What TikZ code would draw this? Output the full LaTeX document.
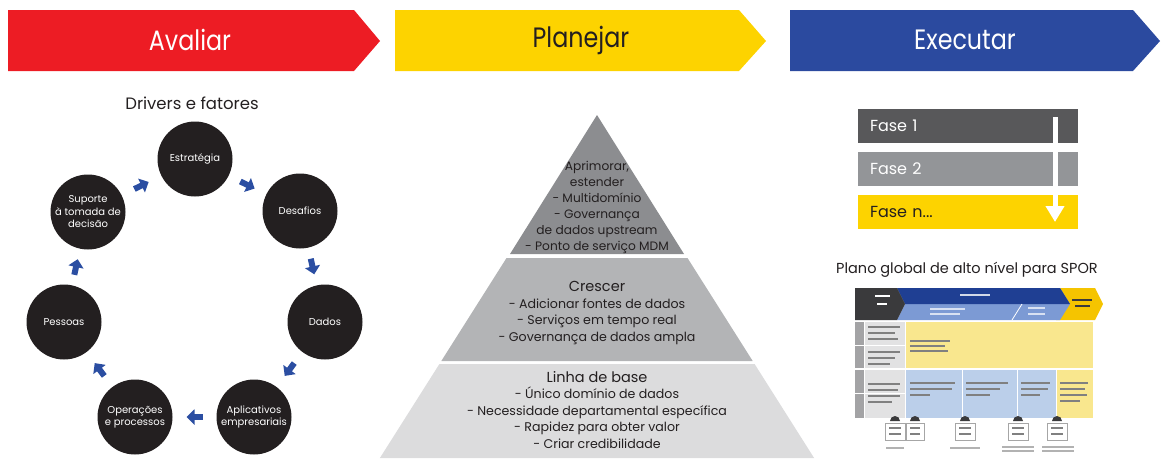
\documentclass[tikz,border=0pt]{standalone}
\usepackage{fontspec}
\setmainfont{Poppins}
\usetikzlibrary{arrows.meta,shapes.geometric,calc}
\definecolor{cred}{HTML}{ED1C24}
\definecolor{cyel}{HTML}{FDD300}
\definecolor{cblue}{HTML}{2B4A9F}
\definecolor{cdark}{HTML}{231F20}
\definecolor{arrblue}{HTML}{2B4EA2}
\definecolor{ptop}{HTML}{8C8D90}
\definecolor{pmid}{HTML}{B3B4B6}
\definecolor{pbot}{HTML}{DCDCDD}
\definecolor{faseA}{HTML}{58585A}
\definecolor{faseB}{HTML}{939598}
\definecolor{thdark}{HTML}{3A3A3C}
\definecolor{thblue}{HTML}{1F3F93}
\definecolor{thlblue}{HTML}{7C9AD4}
\definecolor{thyel}{HTML}{F5C400}
\definecolor{thpyel}{HTML}{F9E78E}
\definecolor{thpblue}{HTML}{BBCFEA}
\definecolor{thgray}{HTML}{A3A3A5}
\definecolor{thlgray}{HTML}{E2E2E3}
\tikzset{
  bannertext/.style={font=\fontsize{28}{32}\selectfont, inner sep=0, xscale=0.85},
  circ/.style={circle, fill=cdark, minimum size=75pt, inner sep=0, text=white, align=center, font=\fontsize{10}{12.5}\selectfont},
  blk/.style={draw=arrblue, line width=6pt, -{Triangle[width=15pt,length=8pt]}},
  ptext/.style={align=center, text=cdark, inner sep=0, font=\fontsize{12.6}{16.5}\selectfont},
  fase/.style={minimum width=220pt, minimum height=34pt, inner sep=0, text width=196pt, align=left, font=\fontsize{16}{18}\selectfont},
  pseudo/.style={draw=#1, line width=1.2pt},
  pseudo/.default=gray
}
\newcommand{\cycarrow}[2]{\draw[blk] ($(#1)!0.5!(#2)!8pt!(#1)$) -- ($(#1)!0.5!(#2)!8pt!(#2)$);}
\begin{document}
\begin{tikzpicture}[x=1pt,y=-1pt]
\useasboundingbox (0,0) rectangle (1162,458);
% banners
\fill[cred] (8,10) -- (354,10) -- (380,41) -- (354,71) -- (8,71) -- cycle;
\fill[cyel] (395,10) -- (739,10) -- (766,41) -- (739,71) -- (395,71) -- cycle;
\fill[cblue] (790,10) -- (1133,10) -- (1160,41) -- (1133,71) -- (790,71) -- cycle;
\node[bannertext, text=white] (avaliar) at (190,40) {Avaliar};
\node[bannertext, text=cdark] (planejar) at (581,40) {Planejar};
\node[bannertext, text=white] (executar) at (965,40) {Executar};

% cycle
\node[font=\fontsize{16.5}{19}\selectfont, text=cdark] (drivers) at (192,103) {Drivers e fatores};
\node[circ] (est) at (195,159) {Estratégia};
\node[circ] (des) at (300,211) {Desafios};
\node[circ] (dad) at (325,322) {Dados};
\node[circ] (apl) at (254,417) {Aplicativos\\empresariais};
\node[circ] (ope) at (135,417) {Operações\\e processos};
\node[circ] (pes) at (64,322) {Pessoas};
\node[circ] (sup) at (88,212) {Suporte\\à tomada de\\decisão};
\cycarrow{sup}{est}
\cycarrow{est}{des}
\cycarrow{des}{dad}
\cycarrow{dad}{apl}
\cycarrow{apl}{ope}
\cycarrow{ope}{pes}
\cycarrow{pes}{sup}

% pyramid
\fill[ptop] (597,115) -- (684,254) -- (510,254) -- cycle;
\fill[pmid] (506.5,258) -- (687.5,258) -- (752.7,361) -- (441.3,361) -- cycle;
\fill[pbot] (439.4,364) -- (754.6,364) -- (814.1,458) -- (379.9,458) -- cycle;
\node[ptext, font=\fontsize{12.2}{16}\selectfont] (ptopt) at (597,207) {Aprimorar,\\estender\\- Multidomínio\\- Governança\\de dados upstream\\- Ponto de serviço MDM};
\node[ptext] (pmidt) at (597,313) {{\fontsize{14.5}{16}\selectfont Crescer}\\- Adicionar fontes de dados\\- Serviços em tempo real\\- Governança de dados ampla};
\node[ptext] (pbott) at (597,410) {{\fontsize{14.5}{16}\selectfont Linha de base}\\- Único domínio de dados\\- Necessidade departamental específica\\- Rapidez para obter valor\\- Criar credibilidade};

% phases
\node[fase, fill=faseA, text=white] (f1) at (968,126) {Fase 1};
\node[fase, fill=faseB, text=white] (f2) at (968,169) {Fase 2};
\node[fase, fill=cyel, text=cdark] (fn) at (968,212) {Fase n...};
\coordinate (as) at (1055,117);
\coordinate (ae) at (1055,222);
\draw[white, line width=5pt, -{Triangle[width=18pt,length=16pt]}] (as) -- (ae);

% plan thumbnail
\node[font=\fontsize{14.5}{17}\selectfont, text=cdark] (plano) at (967,270) {Plano global de alto nível para SPOR};
\fill[thyel] (1056,288) -- (1095,288) -- (1103,304) -- (1095,320) -- (1056,320) -- (1064,304) -- cycle;
\fill[thlblue] (897,288) -- (1060,288) -- (1070,304) -- (1060,320) -- (897,320) -- (905,304) -- cycle;
\fill[thblue] (897,288) -- (1060,288) -- (1070,304) -- (905,304) -- cycle;
\fill[thdark] (855,288) -- (897,288) -- (905,304) -- (897,320) -- (855,320) -- cycle;
\draw[white, line width=0.8pt] (1012,320) -- (1022,304);
% grid
\foreach \ya/\yb in {322/345,346/368,370/393,394/418}{
  \fill[thgray] (855,\ya) rectangle (864,\yb);
  \fill[thlgray] (865,\ya) rectangle (905,\yb);
}
\fill[thpyel] (906,322) rectangle (1093,368);
\fill[thpblue] (906,370) rectangle (962,418);
\fill[thpblue] (963,370) rectangle (1017,418);
\fill[thpblue] (1018,370) rectangle (1056,418);
\fill[thpyel] (1057,370) rectangle (1093,418);
% pseudo text
\draw[pseudo=white] (875,296) -- (890,296) (877,304) -- (887,304);
\draw[pseudo=white!80!thblue] (960,295) -- (990,295);
\draw[pseudo=white!70!thlblue] (930,309) -- (965,309) (930,314) -- (960,314) (1028,308) -- (1045,308) (1028,314) -- (1045,314);
\draw[pseudo=thdark] (1072,300) -- (1092,300) (1075,306) -- (1090,306);
\draw[pseudo=gray] (868,327) -- (900,327) (868,333) -- (895,333) (868,339) -- (898,339)
  (868,352) -- (900,352) (868,358) -- (895,358) (868,364) -- (890,364)
  (868,384) -- (900,384) (868,390) -- (898,390) (868,396) -- (900,396) (868,402) -- (892,402);
\draw[pseudo=gray] (910,341) -- (950,341) (910,346) -- (945,346) (910,351) -- (948,351);
\draw[pseudo=gray] (910,383) -- (955,383) (910,389) -- (952,389) (910,395) -- (930,395)
  (966,383) -- (1008,383) (966,389) -- (1000,389) (966,395) -- (990,395)
  (1021,383) -- (1050,383) (1021,389) -- (1048,389) (1021,395) -- (1040,395)
  (1060,383) -- (1088,383) (1060,389) -- (1085,389) (1060,395) -- (1087,395) (1060,401) -- (1080,401);
\foreach \x/\w in {885/20,906/18,955/20,1008/20,1047/20}{
  \draw[gray!70, line width=0.6pt, fill=white] (\x,423) rectangle ++(\w,17);
  \fill[thdark] (\x+\w/2-5,421) arc[start angle=180, end angle=0, radius=5pt] -- cycle;
  \draw[pseudo=gray] (\x+4,428) -- (\x+\w-4,428) (\x+4,434) -- (\x+\w-4,434);
}
\draw[pseudo=gray!60] (886,448) -- (904,448) (950,448) -- (980,448) (1002,447) -- (1034,447) (1002,451) -- (1034,451) (1042,447) -- (1074,447) (1042,451) -- (1074,451);
\end{tikzpicture}
\end{document}
